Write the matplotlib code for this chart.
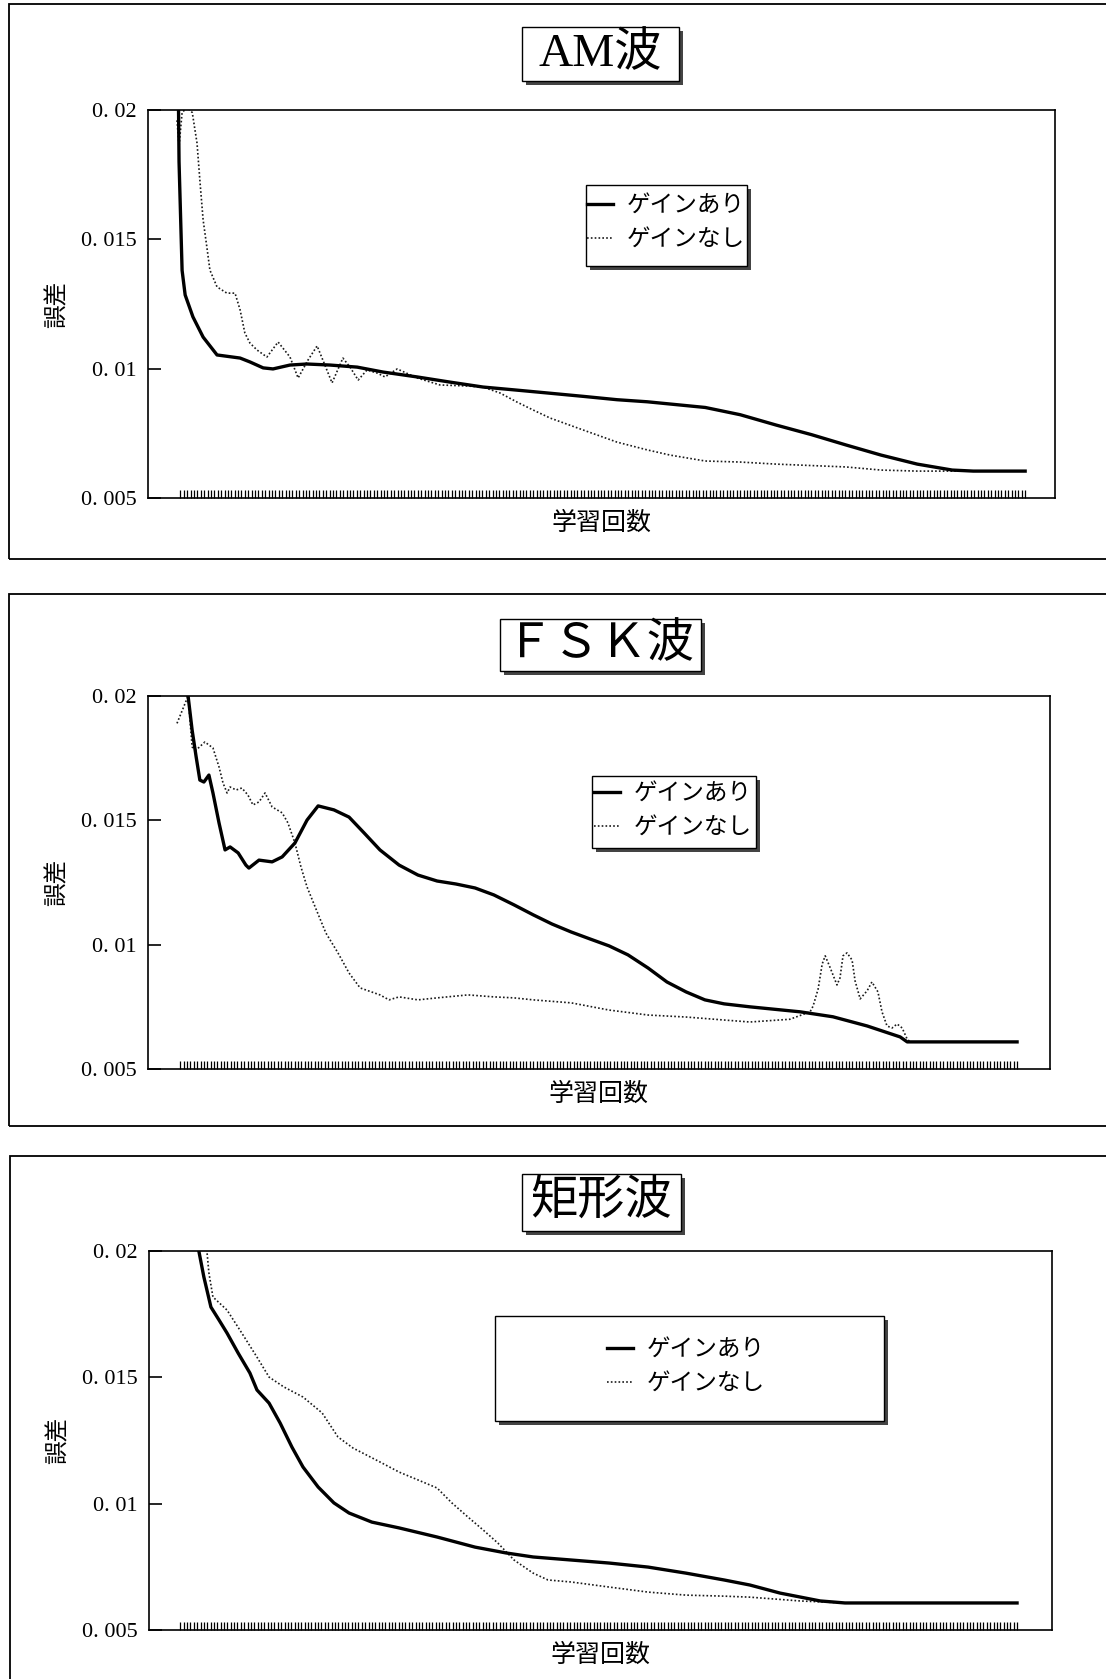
import matplotlib
matplotlib.use('Agg')
import matplotlib.pyplot as plt
from matplotlib.patches import Rectangle

W, H = 1106, 1679

cjk = ['Noto Sans CJK JP', 'DejaVu Sans']
serif = ['Liberation Serif', 'Noto Sans CJK JP']
plt.rcParams['font.family'] = cjk

titles = ['AM波', 'ＦＳＫ波', '矩形波']
labels = ['ゲインあり', 'ゲインなし']
xlabel = '学習回数'
ylabel = '誤差'
yticks = [0.005, 0.01, 0.015, 0.02]
yticklabels = ['0. 005', '0. 01', '0. 015', '0. 02']
iters = list(range(1, 251))

# AM波
am_gain_x = [0, 0.6, 1.5, 2.4, 4.7, 7.7, 11.8, 18.6, 21.5, 25.4, 28.3, 33.3, 38.3, 45.1,
             53.1, 60.7, 70.8, 80.5, 90.2, 100.2, 110, 119.7, 129.7, 138.6, 155.7, 166,
             176.6, 187, 197.2, 207.5, 218.2, 228.5, 234.7, 250]
am_gain_y = [0.026, 0.018, 0.0138, 0.01285, 0.0120, 0.01122, 0.01053, 0.01041, 0.01026,
             0.01003, 0.00999, 0.01014, 0.01018, 0.01014, 0.01006, 0.00987, 0.00968,
             0.00948, 0.00929, 0.00917, 0.00905, 0.00893, 0.0088, 0.00872, 0.0085,
             0.00822, 0.00782, 0.00745, 0.00705, 0.00666, 0.00631, 0.00608, 0.00604, 0.00604]
am_nogain_x = [0, 0.6, 1.5, 3, 4.5, 5.9, 6.8, 7.7, 8.8, 9.7, 11.8, 14.7, 17.1, 18.6, 20.0,
               21.5, 23.6, 26.5, 29.8, 33.3, 35.7, 38.6, 41.3, 43.0, 45.7, 48.9, 51.0,
               53.4, 56.0, 59.0, 61.3, 64.9, 70.8, 77.5, 85.5, 90.2, 95.2, 100.2, 105,
               110, 119.7, 129.7, 138.6, 145.3, 155.7, 166, 176.6, 197.2, 207.5, 218.2, 250]
am_nogain_y = [0.0196, 0.0186, 0.0199, 0.0201, 0.0199, 0.01872, 0.01718, 0.01575, 0.0147,
               0.01381, 0.01316, 0.01292, 0.01292, 0.01227, 0.01138, 0.01099, 0.01072,
               0.01045, 0.01103, 0.01045, 0.00964, 0.01033, 0.01088, 0.01033, 0.00945,
               0.01041, 0.01006, 0.00956, 0.00995, 0.00983, 0.00968, 0.00999, 0.00964,
               0.00937, 0.00933, 0.00929, 0.00906, 0.00871, 0.0084, 0.00809, 0.00763,
               0.00716, 0.00686, 0.00666, 0.00643, 0.00639, 0.00631, 0.0062, 0.00608,
               0.00604, 0.00604]

# FSK波
fsk_gain_x = [0, 3.3, 4.5, 5.7, 6.8, 8.0, 9.5, 10.7, 12.5, 14.3, 15.8, 18.2, 20.5, 21.4,
              24.4, 28.3, 31.3, 35.1, 38.7, 42.0, 46.7, 51.2, 55.7, 60.4, 66.1, 71.7, 77.4,
              83.0, 88.7, 94.3, 100.3, 106, 111.6, 117.3, 122.9, 128.6, 134.2, 140.2,
              145.8, 151.5, 157.1, 162.8, 170.5, 185.4, 195.2, 205.4, 215.2, 217.3, 250]
fsk_gain_y = [0.0205, 0.0200, 0.01863, 0.01755, 0.01662, 0.01654, 0.01682, 0.0161, 0.0149,
              0.01381, 0.01393, 0.01369, 0.0132, 0.01308, 0.0134, 0.01333, 0.01353,
              0.01409, 0.01501, 0.01558, 0.01542, 0.01513, 0.01449, 0.01381, 0.0132,
              0.0128, 0.01256, 0.01244, 0.01228, 0.012, 0.0116, 0.0112, 0.01083, 0.01051,
              0.01023, 0.00995, 0.00959, 0.00906, 0.0085, 0.0081, 0.00778, 0.00762,
              0.0075, 0.0073, 0.0071, 0.00673, 0.00629, 0.00609, 0.00609]
fsk_nogain_x = [0, 1.2, 3.3, 4.5, 5.7, 8.3, 10.7, 12.5, 13.7, 14.9, 15.8, 17.6, 19.3, 21.1,
                22.6, 24.4, 26.2, 28.3, 31.3, 33.0, 35.1, 36.9, 38.7, 41.1, 44.3, 47.9,
                51.2, 54.5, 60.4, 63.1, 66.1, 71.7, 77.4, 86.6, 94.3, 100.3, 106, 117.3,
                128.6, 140.2, 151.5, 162.8, 170.5, 182.4, 188.4, 189.3, 190.8, 192, 192.9,
                194.3, 196.4, 197.3, 198.2, 199.4, 200.9, 201.8, 203.3, 205.4, 206.8,
                208.6, 209.8, 211.3, 212.8, 214.3, 215.8, 217.3, 218.2, 250]
fsk_nogain_y = [0.0189, 0.0193, 0.0200, 0.01795, 0.01783, 0.01815, 0.01791, 0.01715,
                0.0165, 0.0161, 0.01634, 0.01622, 0.0163, 0.01602, 0.01562, 0.01574,
                0.0161, 0.01554, 0.0153, 0.0149, 0.01409, 0.01312, 0.01232, 0.01152,
                0.01047, 0.00967, 0.00886, 0.00826, 0.00798, 0.00778, 0.0079, 0.00778,
                0.00786, 0.00798, 0.0079, 0.00786, 0.00778, 0.00766, 0.00737, 0.00717,
                0.00709, 0.00697, 0.00689, 0.0070, 0.0073, 0.00753, 0.00822, 0.00922,
                0.00955, 0.0091, 0.00838, 0.00866, 0.00955, 0.00967, 0.00938, 0.00854,
                0.00782, 0.00815, 0.0085, 0.0081, 0.0073, 0.00673, 0.00665, 0.00681,
                0.00665, 0.0062, 0.00609, 0.00609]

# 矩形波
sq_gain_x = [5, 6.5, 8.0, 10.1, 12.5, 14.9, 18.2, 21.7, 23.8, 27.4, 30.7, 34.2, 37.5, 42.0,
             46.7, 51.2, 58.0, 66.1, 77.4, 88.7, 97.9, 106, 117.3, 128.6, 140.2, 151.5,
             162.8, 170.5, 179.5, 191.4, 198.8, 250]
sq_gain_y = [0.021, 0.0200, 0.01897, 0.01778, 0.01727, 0.01675, 0.01596, 0.01517, 0.0145,
             0.01398, 0.01319, 0.01224, 0.01145, 0.01066, 0.01003, 0.00963, 0.00927,
             0.00904, 0.00868, 0.00828, 0.00805, 0.00789, 0.00777, 0.00765, 0.00749,
             0.00725, 0.00698, 0.00678, 0.00646, 0.00615, 0.00607, 0.00607]
sq_nogain_x = [8, 8.9, 9.5, 10.7, 14.9, 19.3, 23.8, 27.4, 31.8, 37.5, 43.2, 47.9, 52.4,
               60.4, 66.1, 71.7, 77.4, 81.8, 86.6, 91.1, 95.5, 100.3, 106, 110.4, 117.3,
               128.6, 140.2, 151.5, 162.8, 170.5, 185.4, 198.8, 250]
sq_nogain_y = [0.0205, 0.0200, 0.01913, 0.01818, 0.01766, 0.01675, 0.0158, 0.01501,
               0.01462, 0.01422, 0.01359, 0.01264, 0.0122, 0.01165, 0.01125, 0.01094,
               0.01062, 0.01003, 0.00947, 0.00896, 0.00844, 0.00777, 0.00725, 0.00698,
               0.0069, 0.0067, 0.0065, 0.00638, 0.00634, 0.0063, 0.00615, 0.00607, 0.00607]

series = [
    (am_gain_x, am_gain_y, am_nogain_x, am_nogain_y),
    (fsk_gain_x, fsk_gain_y, fsk_nogain_x, fsk_nogain_y),
    (sq_gain_x, sq_gain_y, sq_nogain_x, sq_nogain_y),
]

# layout in pixels (left, top, right, bottom)
axes_px = [(148, 110, 1055, 498), (148, 696, 1050, 1069), (149, 1251, 1052, 1630)]
xlims = [(-8.55, 258.8), (-8.63, 259.8), (-8.33, 260.4)]
frames_px = [(9, 4, 1120, 559), (9, 594, 1120, 1126), (10, 1156, 1120, 1700)]
title_px = [(522, 27, 679, 81), (500, 619, 701, 671), (522, 1174, 681, 1231)]
legbox_px = [(586, 185, 747, 266), (592, 776, 756, 848), (495, 1316, 884, 1421)]
leganchor_px = [(587, 223), (594, 811), (607, 1367)]


def fx(x):
    return x / W


def fy(y):
    return 1 - y / H


def shadow_box(parent, box, z, transform):
    l, t, r, b = box
    sh = Rectangle((fx(l + 4), fy(b + 4)), fx(r - l), (b - t) / H, transform=transform,
                   facecolor='#444444', edgecolor='none', zorder=z, clip_on=False)
    bx = Rectangle((fx(l), fy(b)), fx(r - l), (b - t) / H, transform=transform,
                   facecolor='white', edgecolor='black', lw=1.0, zorder=z + 0.1, clip_on=False)
    parent.add_artist(sh)
    parent.add_artist(bx)


fig = plt.figure(figsize=(W / 100, H / 100), dpi=100)
fig.patch.set_facecolor('white')

for i in range(3):
    l, t, r, b = axes_px[i]
    ax = fig.add_axes([fx(l), fy(b), fx(r - l), (b - t) / H])
    gx, gy, nx, ny = series[i]
    ax.plot(gx, gy, color='black', lw=2.4, label=labels[0], zorder=3)
    ax.plot(nx, ny, color='#1a1a1a', lw=1.2, ls=(0, (1, 1.3)), label=labels[1], zorder=2)
    ax.set_xlim(*xlims[i])
    ax.set_ylim(0.005, 0.02)

    ax.set_xticks(iters)
    ax.set_xticklabels([])
    ax.tick_params(axis='x', direction='in', length=6, width=0.9)
    ax.set_yticks(yticks)
    ax.set_yticklabels(yticklabels, fontfamily=serif, fontsize=16)
    ax.tick_params(axis='y', direction='in', length=9, width=1.2, pad=8)
    for sp in ax.spines.values():
        sp.set_linewidth(1.2)

    ax.set_xlabel(xlabel, fontsize=18)
    ax.xaxis.set_label_coords(0.5, -12 / (b - t))
    ax.set_ylabel(ylabel, fontsize=17)
    ax.yaxis.set_label_coords(-80 / (r - l), 0.5)

    # legend box with shadow, drawn inside the axes
    shadow_box(ax, legbox_px[i], 4, fig.transFigure)
    axp, ayp = leganchor_px[i]
    ax.legend(loc='center left', bbox_to_anchor=(fx(axp), fy(ayp)),
              bbox_transform=fig.transFigure, frameon=False, fontsize=17,
              handlelength=1.1, handletextpad=0.6, labelspacing=0.45,
              borderpad=0, borderaxespad=0)

    # outer frame
    fl, ft, fr, fb = frames_px[i]
    fig.add_artist(Rectangle((fx(fl), fy(fb)), fx(fr - fl), (fb - ft) / H,
                             transform=fig.transFigure, fill=False,
                             edgecolor='black', lw=1.3))

    # title box
    shadow_box(fig, title_px[i], 1, fig.transFigure)
    tl, tt, tr, tb = title_px[i]
    fig.text(fx((tl + tr) / 2), fy((tt + tb) / 2), titles[i], fontsize=34,
             fontfamily=serif, ha='center', va='center', zorder=5)

fig.savefig('out.png', dpi=100, facecolor='white')
